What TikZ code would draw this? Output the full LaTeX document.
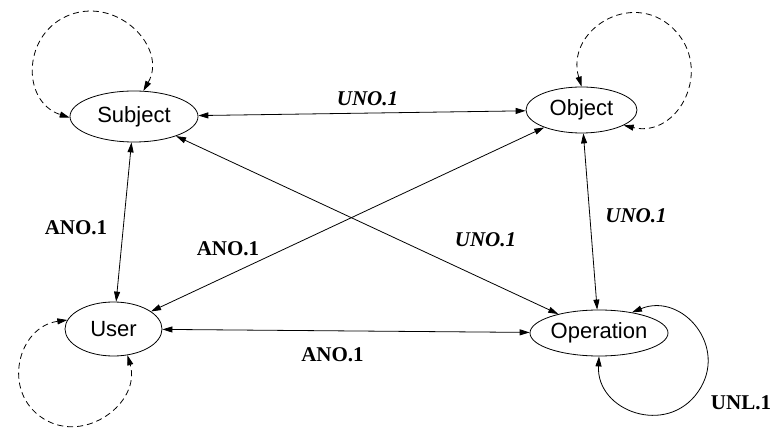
\documentclass[tikz,border=0pt]{standalone}
\usepackage{fontspec}
\setmainfont{Liberation Serif}
\setsansfont{Liberation Sans}
\usetikzlibrary{arrows.meta,shapes.geometric}
\begin{document}
\begin{tikzpicture}[x=1pt,y=1pt,
  state/.style={draw,ellipse,inner sep=0pt,line width=0.8pt,
    font=\sffamily\fontsize{22}{22}\selectfont},
  conn/.style={line width=0.8pt,
    {Triangle[length=10pt,width=6pt]}-{Triangle[length=10pt,width=6pt]}},
  selfdash/.style={conn,dash pattern=on 6pt off 4pt},
  lblb/.style={font=\bfseries\fontsize{21}{21}\selectfont,inner sep=0pt},
  lbli/.style={font=\bfseries\itshape\fontsize{21}{21}\selectfont,inner sep=0pt}]
\useasboundingbox (0,0) rectangle (775,428);

% states
\node[state,minimum width=128pt,minimum height=51pt] (Subject)   at (134,311.5) {Subject};
\node[state,minimum width=111pt,minimum height=46pt] (Object)    at (581.5,318) {Object};
\node[state,minimum width=97pt, minimum height=54pt] (User)      at (113.5,99)  {User};
\node[state,minimum width=138pt,minimum height=46pt] (Operation) at (599,95)    {Operation};

% connectors between states
\draw[conn] (Subject) -- (Object);
\draw[conn] (Subject) -- (User);
\draw[conn] (Subject) -- (Operation);
\draw[conn] (User) -- (Object);
\draw[conn] (Object) -- (Operation);
\draw[conn] (User) -- (Operation);

% self loops
\coordinate (sl) at (70.5,413.4);
\draw[selfdash] (Subject.70)
  to[out=60,in=20,out distance=49pt,in distance=51.5pt] (sl)
  to[out=200,in=162,out distance=51.5pt,in distance=51.6pt] (Subject.181);

\coordinate (ol) at (672.9,399.7);
\draw[selfdash] (Object.north)
  to[out=106.6,in=136.2,out distance=58.2pt,in distance=57.5pt] (ol)
  to[out=-43.8,in=-13.3,out distance=57.5pt,in distance=56.8pt] (Object.-20);

\coordinate (ul) at (43.1,9.55);
\draw[selfdash] (User.169)
  to[out=187.8,in=147.5,out distance=50pt,in distance=49.7pt] (ul)
  to[out=-32.5,in=-73.7,out distance=49.7pt,in distance=49.1pt] (User.-62);

\coordinate (pl) at (698,36.1);
\draw[conn] (Operation.32)
  to[out=22.4,in=55,out distance=54.2pt,in distance=54.7pt] (pl)
  to[out=235,in=267.1,out distance=54.7pt,in distance=55pt] (Operation.south);

% labels
\node[lbli] (l1) at (367.5,329)  {UNO.1};
\node[lblb] (l2) at (76,200.5)   {ANO.1};
\node[lblb] (l3) at (228,179.3)  {ANO.1};
\node[lbli] (l4) at (485.5,188.5) {UNO.1};
\node[lbli] (l5) at (636,212)    {UNO.1};
\node[lblb] (l6) at (332.5,73)   {ANO.1};
\node[lblb] (l7) at (741,25)     {UNL.1};
\end{tikzpicture}
\end{document}
